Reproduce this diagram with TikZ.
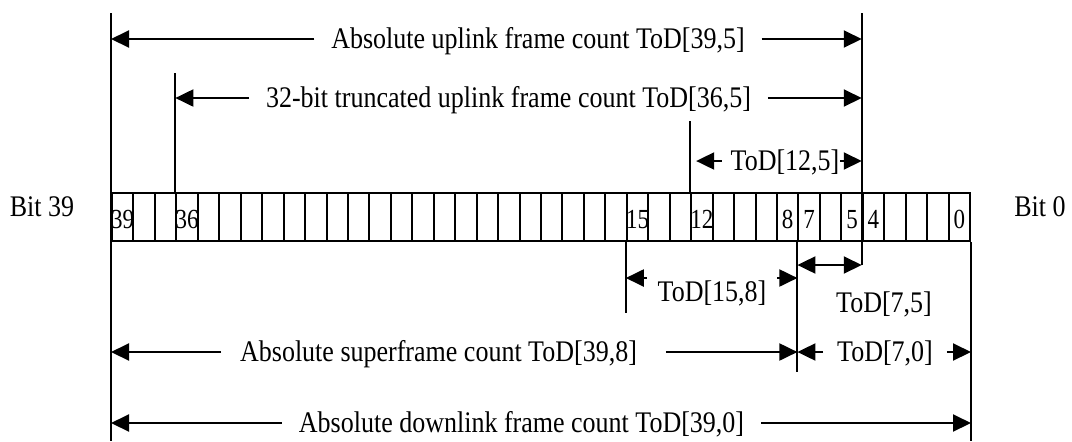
\documentclass[tikz,border=0pt]{standalone}
\usepackage{fontspec}
\setmainfont{Liberation Serif}
\usetikzlibrary{arrows.meta}
\tikzstyle{every picture}=[>={Triangle[length=9pt,width=8.5pt]}, line width=1pt]
\tikzstyle{cell}=[draw, rectangle, minimum width=10.725pt, minimum height=24pt, inner sep=0pt]
\tikzstyle{bitno}=[font=\fontsize{11.5}{13}\selectfont, inner sep=0pt, yscale=1.2, transform shape]
\tikzstyle{dimtext}=[font=\fontsize{13}{15}\selectfont, text height=8.6pt, text depth=0pt, inner ysep=0pt, inner xsep=8pt, yscale=1.15, transform shape]

\begin{document}
\begin{tikzpicture}[x=0.5pt, y=-0.5pt]
\useasboundingbox (0,0) rectangle (1072,441);

\foreach \b in {0,...,39}
  \node[cell] (c\b) at ({112+(39.5-\b)*21.45}, 217) {};
\foreach \b in {39,36,15,12,8,7,5,4,0}
  \node[bitno, yshift=-1pt] at (c\b) {\b};

\node[dimtext, inner xsep=0pt] (bit39) at (42,207) {Bit 39};
\node[dimtext, inner xsep=0pt] (bit0) at (1040,207) {Bit 0};

\draw (c39.north west |- 0,13) -- (c39.south west |- 0,441);
\draw (c4.north west |- 0,13) -- (c4.south west |- 0,265);
\draw (c36.north west |- 0,73) -- (c36.north west);
\draw (c12.north west |- 0,121) -- (c12.north west);
\draw (c15.south west) -- (c15.south west |- 0,313);
\draw (c7.south west) -- (c7.south west |- 0,372);
\draw (c0.south east) -- (c0.south east |- 0,441);

\node[dimtext] (tUp) at (538,39) {Absolute uplink frame count ToD[39,5]};
\draw[->] (tUp.west) -- (c39.west |- tUp);
\draw[->] (tUp.east) -- (c4.west |- tUp);

\node[dimtext] (tTr) at (508.5,98) {32-bit truncated uplink frame count ToD[36,5]};
\draw[->] (tTr.west) -- (c36.west |- tTr);
\draw[->] (tTr.east) -- (c4.west |- tTr);

\node[dimtext, inner xsep=0pt] (t125) at (785,161) {ToD[12,5]};
\draw[->, shorten >=3pt] ([xshift=-4pt]t125.west) -- (c12.west |- t125);
\draw[->] (t125.east) -- (c4.west |- t125);

\node[dimtext, inner xsep=5pt] (t158) at (712,291.5) {ToD[15,8]};
\draw[->] (t158.west |- 0,278) -- (c15.west |- 0,278);
\draw[->] (t158.east |- 0,278) -- (c7.west |- 0,278);

\draw[<->] (c7.west |- 0,265) -- (c4.west |- 0,265);
\node[dimtext] (t75) at (884,303) {ToD[7,5]};

\node[dimtext, inner xsep=9pt] (tSf) at (438.5,352) {Absolute superframe count ToD[39,8]};
\draw[->] (tSf.west) -- (c39.west |- tSf);
\draw[->] ([xshift=5pt]tSf.east) -- (c7.west |- tSf);

\node[dimtext, inner xsep=6.5pt] (t70) at (885,352) {ToD[7,0]};
\draw[->] (t70.west) -- (c7.west |- t70);
\draw[->] (t70.east) -- (c0.east |- t70);

\node[dimtext] (tDn) at (521.5,423) {Absolute downlink frame count ToD[39,0]};
\draw[->] (tDn.west) -- (c39.west |- tDn);
\draw[->] (tDn.east) -- (c0.east |- tDn);

\end{tikzpicture}
\end{document}
